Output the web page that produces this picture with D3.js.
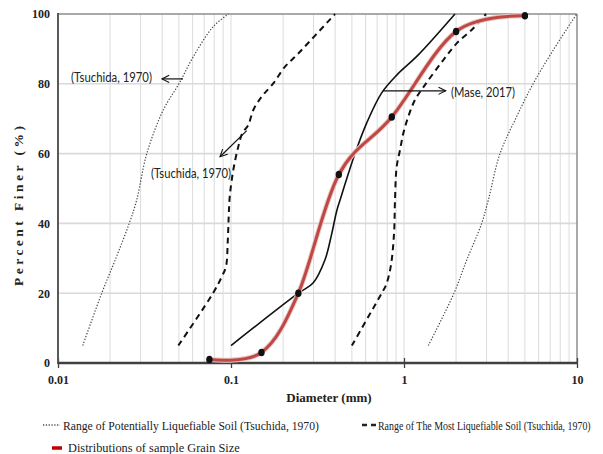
<!DOCTYPE html>
<html>
<head>
<meta charset="utf-8">
<script src="https://cdn.jsdelivr.net/npm/d3@7"></script>
<style>
  html, body { margin: 0; padding: 0; background: #fff; }
  svg { display: block; }
</style>
</head>
<body>
<svg id="chart" width="603" height="454"></svg>
<script>
// ---------- DATA ----------
const xTickValues = [0.01, 0.1, 1, 10];
const xTickLabels = ["0.01", "0.1", "1", "10"];
const yTickValues = [0, 20, 40, 60, 80, 100];
const yTickLabels = ["0", "20", "40", "60", "80", "100"];

// Range of Potentially Liquefiable Soil (Tsuchida, 1970) - dotted bounds
const potentialLowD = [0.0139, 0.0179, 0.0218, 0.0258, 0.0285, 0.0326, 0.0406, 0.0500, 0.0606, 0.0790, 0.0965];
const potentialLowP = [5, 20, 30.5, 40, 46.7, 60, 72.5, 80, 87.8, 96.4, 100];
const potentialHighD = [1.382, 1.945, 2.304, 2.812, 3.072, 3.588, 4.481, 5.59, 7.295, 9.96];
const potentialHighP = [5, 20, 29.5, 40, 46.7, 60, 70.6, 80.1, 89.7, 100];

// Range of The Most Liquefiable Soil (Tsuchida, 1970) - dashed bounds
const mostLowD = [0.0496, 0.0787, 0.0884, 0.0935, 0.0958, 0.0970, 0.0983, 0.1031, 0.1102, 0.1162, 0.1259, 0.1346, 0.1504, 0.1755, 0.2052, 0.2449, 0.3992];
const mostLowP = [5, 20, 24.7, 27.6, 35, 42, 47.6, 55.3, 62, 65.8, 68.2, 72.5, 76.3, 80.1, 84.9, 88.7, 100];
const mostHighD = [0.4996, 0.743, 0.787, 0.838, 0.876, 0.887, 0.907, 0.948, 0.991, 1.059, 1.158, 1.323, 1.687, 2.017, 2.516, 2.978];
const mostHighP = [5, 20, 22.3, 27.6, 37.2, 46.7, 56.2, 61, 65.8, 70.6, 75.4, 79.7, 86.8, 91.6, 95.9, 100];

// Mase, 2017 (solid black)
const maseD = [0.1, 0.245, 0.298, 0.349, 0.382, 0.408, 0.427, 0.521, 0.609, 0.743, 0.908, 1.205, 1.97];
const maseP = [5, 20, 22.9, 29.5, 37, 43.5, 46.7, 60, 68.8, 77.4, 82.5, 88.2, 100];

// Distributions of sample Grain Size (red with markers)
const sampleD = [0.075, 0.15, 0.245, 0.42, 0.85, 2.0, 5.0];
const sampleP = [1, 3, 20, 54, 70.5, 95, 99.5];

// Annotations
const annoText = ["(Tsuchida, 1970)", "(Tsuchida, 1970)", "(Mase, 2017)"];
const annoTextD = [0.0119, 0.0345, 1.87];
const annoTextP = [81.9, 54.4, 77.6];
const annoFromD = [0.0528, 0.1233, 0.756];
const annoFromP = [81.4, 66.6, 78];
const annoToD = [0.0399, 0.0864, 1.742];
const annoToP = [81.4, 59.1, 78];

const legendLabels = [
  "Range of Potentially Liquefiable Soil (Tsuchida, 1970)",
  "Range of The Most Liquefiable Soil (Tsuchida, 1970)",
  "Distributions of sample Grain Size"
];

// ---------- LAYOUT ----------
const svg = d3.select("#chart");
const L = 58, R = 577, T = 14, B = 363;
const x = d3.scaleLog().domain([0.01, 10]).range([L, R]);
const y = d3.scaleLinear().domain([0, 100]).range([B, T]);

const serif = "'Liberation Serif', 'Times New Roman', serif";
const sans = "Lato, 'Liberation Sans', sans-serif";

// helper: text horizontally condensed to a target width (keeps real text)
function fitText(parent, tx, ty, str, width, opts) {
  const g = parent.append("g").attr("transform", `translate(${tx},${ty})`);
  const t = g.append("text").attr("x", 0).attr("y", 0)
    .attr("font-family", opts.family).attr("font-size", opts.size)
    .attr("fill", opts.fill || "#222").attr("dy", opts.dy || null).text(str);
  const w = t.node().getComputedTextLength();
  const s = w > 0 ? width / w : 1;
  t.attr("transform", `scale(${s},1)`);
  return t;
}

// gridlines
const minorTicks = [];
[0.01, 0.1, 1].forEach(dec => { for (let k = 2; k <= 10; k++) minorTicks.push(dec * k); });
svg.append("g").selectAll("line").data(minorTicks.filter(v => v < 9.99)).join("line")
  .attr("x1", d => x(d)).attr("x2", d => x(d)).attr("y1", T).attr("y2", B)
  .attr("stroke", "#dcdcdc").attr("stroke-width", 1);
svg.append("g").selectAll("line").data([20, 40, 60, 80]).join("line")
  .attr("x1", L).attr("x2", R).attr("y1", d => y(d)).attr("y2", d => y(d))
  .attr("stroke", "#d9d9d9").attr("stroke-width", 1.6);

// top & right border
svg.append("line").attr("x1", L).attr("x2", R).attr("y1", y(100)).attr("y2", y(100))
  .attr("stroke", "#8c8c8c").attr("stroke-width", 1.5);
svg.append("line").attr("x1", x(10)).attr("x2", x(10)).attr("y1", T).attr("y2", B)
  .attr("stroke", "#8c8c8c").attr("stroke-width", 1.5);

// axes
const xAxis = d3.axisBottom(x).tickValues(xTickValues)
  .tickFormat((d, i) => xTickLabels[i]).tickSizeInner(5).tickSizeOuter(0).tickPadding(9);
const gx = svg.append("g").attr("transform", `translate(0,${B - 5})`).call(xAxis);
gx.select(".domain").remove();
gx.selectAll(".tick line").attr("stroke", "#404040").attr("stroke-width", 1.3).attr("y2", 10);
gx.selectAll(".tick text").attr("font-family", serif).attr("font-weight", "bold")
  .attr("font-size", 12).attr("fill", "#222").attr("dy", "0.71em").attr("y", 17);

const yAxis = d3.axisLeft(y).tickValues(yTickValues)
  .tickFormat((d, i) => yTickLabels[i]).tickSize(0).tickPadding(8);
const gy = svg.append("g").attr("transform", `translate(${L},0)`).call(yAxis);
gy.select(".domain").remove();
gy.selectAll(".tick text").attr("font-family", serif).attr("font-weight", "bold")
  .attr("font-size", 12).attr("fill", "#222");

svg.append("line").attr("x1", L).attr("x2", L).attr("y1", T - 1).attr("y2", B + 1)
  .attr("stroke", "#595959").attr("stroke-width", 2);
svg.append("line").attr("x1", L).attr("x2", R).attr("y1", B).attr("y2", B)
  .attr("stroke", "#404040").attr("stroke-width", 2.5);

// axis titles
svg.append("text").attr("x", 329).attr("y", 402).attr("text-anchor", "middle")
  .attr("font-family", serif).attr("font-weight", "bold").attr("font-size", 13)
  .attr("fill", "#222").text("Diameter (mm)");
svg.append("text").attr("transform", "translate(23,206) rotate(-90)").attr("text-anchor", "middle")
  .attr("font-family", serif).attr("font-weight", "bold").attr("font-size", 13.5)
  .attr("fill", "#222").attr("textLength", 160).attr("lengthAdjust", "spacing")
  .text("Percent Finer (%)");

// ---------- CURVES ----------
const pts = (D, P) => D.map((d, i) => [x(d), y(P[i])]);
const smooth = d3.line().curve(d3.curveCatmullRom.alpha(0.5));
const cardinal = d3.line().curve(d3.curveCardinal.tension(0));

const g = svg.append("g");
[[potentialLowD, potentialLowP], [potentialHighD, potentialHighP]].forEach(([D, P]) => {
  g.append("path").attr("d", smooth(pts(D, P))).attr("fill", "none")
    .attr("stroke", "#444").attr("stroke-width", 1.2).attr("stroke-dasharray", "1.3,1.7");
});
[[mostLowD, mostLowP], [mostHighD, mostHighP]].forEach(([D, P]) => {
  g.append("path").attr("d", smooth(pts(D, P))).attr("fill", "none")
    .attr("stroke", "#111").attr("stroke-width", 2).attr("stroke-dasharray", "6,4.5");
});
g.append("path").attr("d", smooth(pts(maseD, maseP))).attr("fill", "none")
  .attr("stroke", "#111").attr("stroke-width", 1.6);

g.append("path").attr("d", cardinal(pts(sampleD, sampleP))).attr("fill", "none")
  .attr("stroke", "#e7c9c7").attr("stroke-width", 5).attr("stroke-linecap", "round");
g.append("path").attr("d", cardinal(pts(sampleD, sampleP))).attr("fill", "none")
  .attr("stroke", "#bf4744").attr("stroke-width", 3).attr("stroke-linecap", "round");
g.selectAll("ellipse.pt").data(sampleD.map((d, i) => [d, sampleP[i]])).join("ellipse")
  .attr("class", "pt").attr("cx", d => x(d[0])).attr("cy", d => y(d[1]))
  .attr("rx", 3.2).attr("ry", 3.8).attr("fill", "#111");

// ---------- ANNOTATIONS ----------
const defs = svg.append("defs");
defs.append("marker").attr("id", "arr").attr("viewBox", "0 0 10 10")
  .attr("refX", 9).attr("refY", 5).attr("markerWidth", 9).attr("markerHeight", 9)
  .attr("markerUnits", "userSpaceOnUse").attr("orient", "auto")
  .append("path").attr("d", "M1,1 L9,5 L1,9").attr("fill", "none")
  .attr("stroke", "#111").attr("stroke-width", 1.2);

const annoWidths = [81, 80, 64];
annoText.forEach((t, i) => {
  svg.append("line")
    .attr("x1", x(annoFromD[i])).attr("y1", y(annoFromP[i]))
    .attr("x2", x(annoToD[i])).attr("y2", y(annoToP[i]))
    .attr("stroke", "#111").attr("stroke-width", 1.2).attr("marker-end", "url(#arr)");
  fitText(svg, x(annoTextD[i]), y(annoTextP[i]), t, annoWidths[i],
    { family: sans, size: 13, fill: "#222", dy: "0.35em" });
});

// ---------- LEGEND ----------
const lg = svg.append("g");
lg.append("line").attr("x1", 43).attr("x2", 60).attr("y1", 425).attr("y2", 425)
  .attr("stroke", "#555").attr("stroke-width", 1.3).attr("stroke-dasharray", "1.3,1.5");
fitText(lg, 63, 429.5, legendLabels[0], 256, { family: serif, size: 13.5, fill: "#222" });
lg.append("line").attr("x1", 362).attr("x2", 376).attr("y1", 425).attr("y2", 425)
  .attr("stroke", "#222").attr("stroke-width", 2.5).attr("stroke-dasharray", "5,4");
fitText(lg, 378, 429.5, legendLabels[1], 213, { family: serif, size: 13.5, fill: "#222" });
lg.append("line").attr("x1", 52).attr("x2", 62).attr("y1", 448).attr("y2", 448)
  .attr("stroke", "#c00000").attr("stroke-width", 3.5);
fitText(lg, 68, 452, legendLabels[2], 172, { family: serif, size: 13.5, fill: "#222" });
</script>
</body>
</html>
